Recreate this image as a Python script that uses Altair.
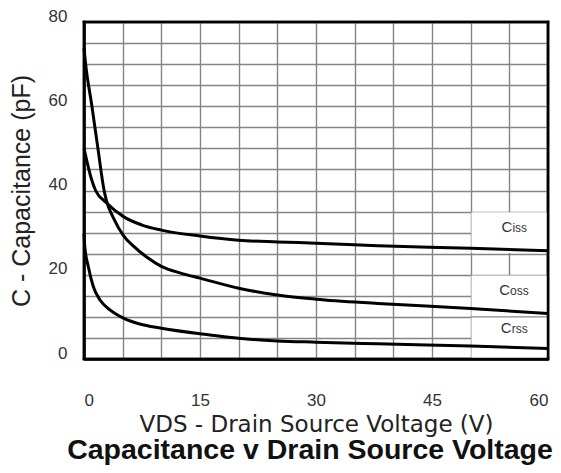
import altair as alt
import pandas as pd

# Curve data (V, pF)
v_ciss = [0, 0.5, 1.0, 1.5, 2.9, 5.1, 7.5, 10, 15, 20, 25, 30, 38, 50, 60]
c_ciss = [50, 46, 42.5, 40, 37.1, 33.8, 31.8, 30.6, 29.2, 28.2, 27.8, 27.5, 26.9, 26.3, 25.7]

v_coss = [0, 0.2, 1.0, 1.8, 2.6, 2.9, 3.8, 5.1, 6.4, 8.1, 10, 12.5, 15, 20, 25, 30, 38, 50, 60]
c_coss = [73.8, 70.2, 60.3, 50, 40, 37.6, 33.5, 29.3, 26.8, 24.2, 22.0, 20.4, 19.2, 16.8, 15.2, 14.2, 13.2, 12.0, 10.8]

v_crss = [0, 0.1, 0.56, 1.2, 2.07, 3.4, 5.1, 7.2, 10, 16.3, 20, 25, 30, 38, 50, 60]
c_crss = [29.8, 26.7, 21.9, 17.2, 14, 11.6, 9.7, 8.3, 7.3, 5.7, 4.9, 4.3, 4.0, 3.6, 3.1, 2.5]

# Curve labels (anchor in data units)
label_main = ["C", "C", "C"]
label_sub = ["iss", "oss", "rss"]
label_v = [55.4, 55.1, 55.3]
label_c = [30.2, 15.2, 6.2]

# Label boxes (white areas hiding the grid)
box_v0 = [50.1, 50.1]
box_v1 = [59.9, 59.9]
box_c0 = [25.15, 0.15]
box_c1 = [34.85, 19.85]

# Grid line that crosses the lower box
cross_v0 = [50]
cross_v1 = [60]
cross_c = [10]

# Plot frame: bottom, top, left, right sides (axis range ends)
side_v0 = [0, 0, 0, 60]
side_v1 = [60, 60, 0, 60]
side_c0 = [0, 80, 0, 0]
side_c1 = [0, 80, 80, 80]

x_ticks = list(range(0, 61, 5))
y_ticks = list(range(0, 81, 5))

rows = []
for name, vs, cs in [("Ciss", v_ciss, c_ciss), ("Coss", v_coss, c_coss), ("Crss", v_crss, c_crss)]:
    for v, c in zip(vs, cs):
        rows.append({"series": name, "V": v, "C": c})
curves = pd.DataFrame(rows)
labels = pd.DataFrame({"main": label_main, "sub": label_sub, "V": label_v, "C": label_c})
boxes = pd.DataFrame({"v0": box_v0, "v1": box_v1, "c0": box_c0, "c1": box_c1})
cross = pd.DataFrame({"v0": cross_v0, "v1": cross_v1, "c": cross_c})
sides = pd.DataFrame({"sv0": side_v0, "sv1": side_v1, "sc0": side_c0, "sc1": side_c1})

xscale = alt.Scale(domain=[0, 60], nice=False, zero=False)
yscale = alt.Scale(domain=[0, 80], nice=False, zero=False)

GRID = "#858585"

x_axis = alt.Axis(
    values=x_ticks,
    labelExpr="datum.value % 15 == 0 ? datum.label : ''",
    labelOverlap=False,
    title="VDS - Drain Source Voltage (V)",
    titleFont="DejaVu Sans", titleFontSize=23, titleFontWeight="normal",
    titleColor="#222", titlePadding=5,
    labelFont="Liberation Sans", labelFontSize=17, labelColor="#333",
    labelPadding=33, ticks=False,
    domain=True, domainColor="black", domainWidth=2.5,
    grid=True, gridColor=GRID, gridWidth=1.4,
)
y_axis = alt.Axis(
    values=y_ticks,
    labelExpr="datum.value % 20 == 0 ? datum.label : ''",
    labelOverlap=False,
    title="C - Capacitance (pF)",
    titleFont="Liberation Sans", titleFontSize=25, titleFontWeight="normal",
    titleColor="#222", titlePadding=14,
    labelFont="Liberation Sans", labelFontSize=17, labelColor="#333",
    labelPadding=17, labelOffset=-6, ticks=False,
    domain=True, domainColor="black", domainWidth=2.5,
    grid=True, gridColor=GRID, gridWidth=1.4,
)


def X(field):
    return alt.X(field, type="quantitative", scale=xscale, axis=x_axis)


def Y(field):
    return alt.Y(field, type="quantitative", scale=yscale, axis=y_axis)


base_rect = alt.Chart(boxes).mark_rect(color="white").encode(
    x=X("v0"), x2="v1", y=Y("c0"), y2="c1",
)

cross_rule = alt.Chart(cross).mark_rule(color=GRID, strokeWidth=1.4).encode(
    x=X("v0"), x2="v1", y=Y("c"),
)

lines = alt.Chart(curves).mark_line(color="black", strokeWidth=3, interpolate="monotone").encode(
    x=X("V"), y=Y("C"), detail="series:N",
)

txt_main = alt.Chart(labels).mark_text(
    align="right", baseline="alphabetic", font="Liberation Sans", fontSize=15, color="#333"
).encode(x=X("V"), y=Y("C"), text="main:N")

txt_sub = alt.Chart(labels).mark_text(
    align="left", baseline="alphabetic", font="Liberation Sans", fontSize=12, color="#333"
).encode(x=X("V"), y=Y("C"), text="sub:N")

border = alt.Chart(sides).mark_rule(color="black", strokeWidth=2.5, strokeCap="square").encode(
    x=X("sv0"), x2="sv1", y=Y("sc0"), y2="sc1",
)

chart = alt.layer(base_rect, cross_rule, lines, txt_main, txt_sub, border).properties(
    width=464,
    height=337,
    background="white",
    autosize=alt.AutoSizeParams(type="none"),
    padding={"left": 76, "top": 14, "right": 5, "bottom": 110},
    title=alt.TitleParams(
        "Capacitance v Drain Source Voltage",
        orient="bottom", anchor="middle", font="Liberation Sans",
        fontSize=28.5, fontWeight="bold", color="#111", offset=0, dx=-6,
    ),
).configure_view(stroke="black", strokeWidth=2.5)

chart.save("out.html", embed_options={"renderer": "svg", "actions": False})
